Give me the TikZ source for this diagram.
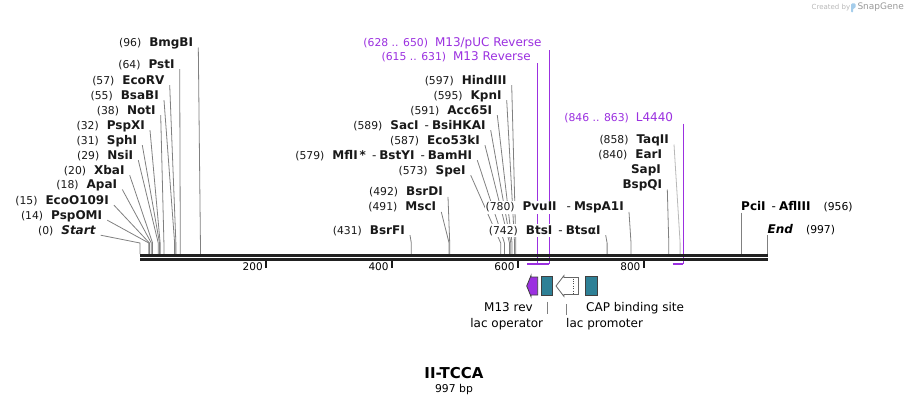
\documentclass[tikz,border=0pt]{standalone}
\usepackage{fontspec}
\setmainfont{DejaVu Sans}
\definecolor{primer}{RGB}{155,48,224}
\definecolor{operon}{RGB}{46,128,150}
\definecolor{brand}{RGB}{165,205,235}
\newcommand{\sitenum}[1]{{\fontsize{10.8}{12}\selectfont #1}}
\newcommand{\sitename}[1]{{\fontsize{12}{14}\selectfont\bfseries #1}}
\newcommand{\sitelabel}[2]{\sitenum{#1}\hspace{8pt}\sitename{#2}}
\newcommand{\andsite}{\hspace{6pt}{\mdseries -}\hspace{3pt}}
\newcommand{\featname}[1]{{\fontsize{12}{14}\selectfont #1}}

\begin{document}
\begin{tikzpicture}[x=1pt,y=-1pt,
  sitelbl/.style={anchor=base east,inner sep=1pt,fill=white,text=black!90},
  leader/.style={draw=black!50,line width=0.8pt},
  primerline/.style={draw=primer,line width=0.9pt},
  primerbar/.style={draw=primer,line width=2.4pt},
  backbone/.style={draw=black!87,line width=2.9pt},
  featbox/.style={draw=black!75,line width=0.8pt,fill=operon}]

  \useasboundingbox (0,0) rectangle (909,404);

  % Constantes (en pixels)
  \pgfmathsetmacro{\xzero}{140}
  \pgfmathsetmacro{\bpx}{0.6295}
  \pgfmathsetmacro{\knee}{243}
  \pgfmathsetmacro{\ytop}{254}

  % Amorces (violet)
  \coordinate (m13a) at ({\xzero+\bpx*615},264);
  \coordinate (m13b) at ({\xzero+\bpx*631},264);
  \coordinate (pucA) at ({\xzero+\bpx*628},264);
  \coordinate (pucB) at ({\xzero+\bpx*650},264);
  \coordinate (l44a) at ({\xzero+\bpx*846},264);
  \coordinate (l44b) at ({\xzero+\bpx*863},264);

  \node[sitelbl,text=primer] (puc) at (542.7,46.4) {\sitenum{(628 .. 650)}\hspace{7pt}\featname{M13/pUC Reverse}};
  \node[sitelbl,text=primer] (m13) at (532,60.4) {\sitenum{(615 .. 631)}\hspace{7pt}\featname{M13 Reverse}};
  \node[sitelbl,text=primer] (l4440) at (674.3,121) {\sitenum{(846 .. 863)}\hspace{7pt}\featname{L4440}};
  \draw[primerline] (pucB |- puc.south) -- (pucB);
  \draw[primerline] (m13b |- m13.south) -- (m13b);
  \draw[primerline] (l44b |- l4440.south) -- (l44b);

  % Sites de restriction : position / bord droit / y / numero / nom
  \foreach \p/\xr/\y/\num/\name [count=\i] in {
      0/96.7/230/{(0)}/{\itshape Start},
      14/103.3/215/{(14)}/PspOMI,
      15/110/200/{(15)}/EcoO109I,
      18/118.3/184.3/{(18)}/ApaI,
      20/125.7/170/{(20)}/XbaI,
      29/134.3/155/{(29)}/NsiI,
      31/138.3/140/{(31)}/SphI,
      32/146/125/{(32)}/PspXI,
      38/156.7/110/{(38)}/NotI,
      55/160/95/{(55)}/BsaBI,
      57/165.7/80/{(57)}/EcoRV,
      64/175.7/64/{(64)}/PstI,
      96/194.3/42.3/{(96)}/BmgBI,
      431/406/230/{(431)}/BsrFI,
      491/437.3/206.7/{(491)}/MscI,
      492/444/191.7/{(492)}/BsrDI,
      573/466.7/170/{(573)}/SpeI,
      579/473.3/155/{(579)}/{MflI\,*\andsite BstYI\andsite BamHI},
      587/481/140/{(587)}/Eco53kI,
      589/486.7/125/{(589)}/{SacI\andsite BsiHKAI},
      591/493.3/110/{(591)}/Acc65I,
      595/502.7/95/{(595)}/KpnI,
      597/507.7/80/{(597)}/HindIII,
      840/663.3/184.3/{}/BspQI,
      780/625/206.7/{(780)}/{PvuII\hspace{4pt}\andsite MspA1I},
      742/601.7/230/{(742)}/{BtsI\andsite BtsαI}
  }{
    \coordinate (s\i) at ({\xzero+\bpx*\p},\ytop);
    \node[sitelbl] (l\i) at (\xr,\y+4.2) {\sitelabel{\num}{\name}};
    \draw[leader] (l\i.base east) ++(4,1) -- ({\xzero+\bpx*\p},\knee) -- (s\i);
  }

  % TaqII (trait plus clair)
  \coordinate (s858) at ({\xzero+\bpx*858},\ytop);
  \node[sitelbl] (taqII) at (670,143.5) {\sitelabel{(858)}{TaqII}};
  \draw[leader,draw=black!28] (taqII.base east) ++(4,1) -- (s858 |- 0,\knee) -- (s858);

  % Sans trait
  \node[sitelbl] (earI) at (663.3,158.5) {\sitelabel{(840)}{EarI}};
  \node[sitelbl] (sapI) at (662,173.5) {\sitename{SapI}};

  % Etiquettes a droite du site
  \coordinate (s956) at ({\xzero+\bpx*956},\ytop);
  \coordinate (s997) at ({\xzero+\bpx*997},\ytop);
  \node[anchor=base west,inner sep=0pt,fill=white] (pciI) at (741,210.9) {\sitename{PciI\andsite AflIII}\hspace{13pt}\sitenum{(956)}};
  \node[anchor=base west,inner sep=0pt,fill=white] (endsite) at (767.5,233.5) {\sitename{\itshape End}\hspace{13pt}\sitenum{(997)}};
  \draw[leader] (s956 |- pciI.south) -- (s956);
  \draw[leader] (s997 |- endsite.south) -- (s997);

  % Sequence
  \draw[backbone] (\xzero,255.2) -- (s997 |- 0,255.2);
  \draw[backbone] (\xzero,259.6) -- (s997 |- 0,259.6);
  \draw[primerbar] (m13a) -- (m13b);
  \draw[primerbar] (pucA) -- (pucB);
  \draw[primerbar] (l44a) -- (l44b);

  % Graduations
  \foreach \t in {200,400,600,800}{
    \draw[line width=2pt,black!90] ({\xzero+\bpx*\t},261) -- ({\xzero+\bpx*\t},268);
    \node[anchor=base east,inner sep=0pt] (tick\t) at ({\xzero+\bpx*\t-3},270.5) {\fontsize{10.5}{12}\selectfont\t};
  }

  % Elements
  \draw[draw=black!75,line width=0.8pt,fill=primer] (537.7,277) -- (531,277) -- (531,275.5) -- (526.7,286) -- (531,296.5) -- (531,295) -- (537.7,295) -- cycle;
  \node[featbox,minimum width=10.6pt,minimum height=18.5pt,inner sep=0pt] (lacop) at (547,286) {};
  \draw[draw=black!60,line width=0.8pt,fill=white] (578.5,277.5) -- (564,277.5) -- (564,275.5) -- (556,286) -- (564,296.5) -- (564,294.5) -- (578.5,294.5) -- cycle;
  \draw[black!70,dotted] (573.5,278.5) -- (573.5,293.5);
  \coordinate (promo) at (566,296);
  \node[featbox,minimum width=12.5pt,minimum height=18.5pt,inner sep=0pt] (cap) at (591.3,286) {};

  \node[anchor=base,inner sep=0pt] (m13rev) at (508.5,311) {\featname{M13 rev}};
  \node[anchor=base east,inner sep=0pt] (opname) at (543.3,327.7) {\featname{lac operator}};
  \node[anchor=base west,inner sep=0pt] (proname) at (566,327.7) {\featname{lac promoter}};
  \node[anchor=base west,inner sep=0pt] (capname) at (586,311) {\featname{CAP binding site}};
  \draw[leader] ([yshift=-6pt]lacop.south) -- ([yshift=-18.5pt]lacop.south);
  \draw[leader] ([yshift=-8pt]promo) -- ([yshift=-19pt]promo);

  % Titre
  \node[anchor=base,inner sep=0pt] (title) at (454,378.6) {\fontsize{15}{17}\selectfont\bfseries II-TCCA};
  \node[anchor=base,inner sep=0pt] (size) at (454,392) {\fontsize{10.8}{12}\selectfont 997 bp};

  % Filigrane
  \node[anchor=base west,inner sep=0pt,text=black!28] (made) at (811.5,9.5) {\fontsize{7}{8}\selectfont Created by};
  \fill[brand,rounded corners=1pt] (851,3.5) -- (855.5,3.5) -- (855.5,8) -- (853,8.5) -- (853,12.5) -- (851,12.5) -- cycle;
  \node[anchor=base west,inner sep=0pt,text=black!40] (snap) at (857.3,10) {\fontsize{9}{10}\selectfont SnapGene};

\end{tikzpicture}
\end{document}
